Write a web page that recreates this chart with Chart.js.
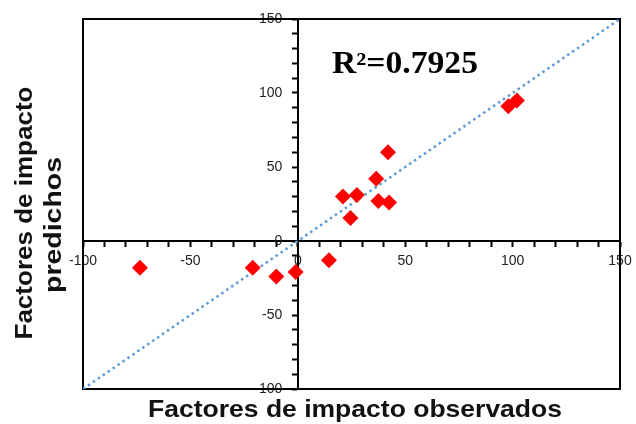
<!DOCTYPE html>
<html>
<head>
<meta charset="utf-8">
<script src="https://cdn.jsdelivr.net/npm/chart.js@4/dist/chart.umd.min.js"></script>
<style>
  body { margin: 0; background: #fff; }
  #wrap { width: 636px; height: 424px; }
</style>
</head>
<body>
<div id="wrap"><canvas id="impacto"></canvas></div>
<script>
const observados = [-73.5, -21, -10, -1, 14.5, 21, 27.5, 24.5, 36.5, 37.5, 42.5, 42, 98, 102];
const predichos  = [-18, -18, -24, -21, -13, 30, 31, 15.5, 42, 27, 26, 60, 91, 95];

// 1:1 reference line ends
const lineaX = [-100, 150];
const lineaY = [-100, 150];

const ejeMin = -100, ejeMax = 150;
const pasoMenor = 10, pasoMayor = 50;
const r2Texto = 'R\u00B2=0.7925';
const tituloX = 'Factores de impacto observados';
const tituloY = ['Factores de impacto', 'predichos'];

let puntos = observados.map((x, i) => ({ x: x, y: predichos[i] }));
let linea = lineaX.map((x, i) => ({ x: x, y: lineaY[i] }));

// text squeezed/stretched to the width it has in the picture
function textoAncho(ctx, txt, x, y, ancho, rot) {
    let w = ctx.measureText(txt).width;
    ctx.save();
    ctx.translate(x, y);
    if (rot) ctx.rotate(rot);
    ctx.scale(ancho / w, 1);
    ctx.fillText(txt, 0, 0);
    ctx.restore();
}

// frame round the plot area + texts (titles and R2)
const extras = {
    id: 'extras',
    beforeDatasetsDraw(chart) {
        let ctx = chart.ctx;
        let a = chart.chartArea;
        ctx.save();
        ctx.strokeStyle = '#000';
        ctx.lineWidth = 2;
        ctx.strokeRect(a.left, a.top, a.right - a.left, a.bottom - a.top);
        ctx.restore();
    },
    afterDraw(chart) {
        let ctx = chart.ctx;
        ctx.save();
        ctx.fillStyle = '#000';
        ctx.textBaseline = 'alphabetic';

        ctx.font = 'bold 31px "Liberation Serif", "Times New Roman", serif';
        ctx.textAlign = 'left';
        textoAncho(ctx, r2Texto, 332, 73, 146);

        ctx.fillStyle = '#111';
        ctx.font = 'bold 24px "Liberation Sans", Arial, sans-serif';
        ctx.textAlign = 'center';
        textoAncho(ctx, tituloX, 355, 417, 414);
        textoAncho(ctx, tituloY[0], 32, 213, 253, -Math.PI / 2);
        textoAncho(ctx, tituloY[1], 61, 225, 136, -Math.PI / 2);
        ctx.restore();
    }
};

function etiquetaX(v) {
    return v % pasoMayor === 0 ? v : '';
}
// y labels sit left of the crossing axis
function etiquetaY(v) {
    return v % pasoMayor === 0 ? v + '    ' : '';
}

let fuenteTicks = { family: '"Liberation Sans", Arial, sans-serif', size: 14 };

new Chart(document.getElementById('impacto'), {
    type: 'scatter',
    data: {
        datasets: [{
            data: puntos,
            backgroundColor: '#ff0000',
            borderColor: '#ff0000',
            borderWidth: 0,
            pointStyle: 'rectRot',
            pointRadius: 8,
            pointHoverRadius: 8
        }, {
            data: linea,
            showLine: true,
            borderColor: '#5b9bd5',
            borderWidth: 2.5,
            borderDash: [2.5, 3.5],
            pointRadius: 0,
            fill: false
        }]
    },
    options: {
        responsive: true,
        maintainAspectRatio: false,
        animation: false,
        events: [],
        layout: { padding: { left: 83, top: 19, right: 16, bottom: 35 } },
        plugins: { legend: { display: false }, tooltip: { enabled: false } },
        scales: {
            x: {
                type: 'linear',
                min: ejeMin,
                max: ejeMax,
                position: { y: 0 },
                afterFit: (s) => { s.height = 0; s.paddingLeft = 0; s.paddingRight = 0; },
                border: { display: true, color: '#000', width: 2 },
                grid: { drawOnChartArea: false, drawTicks: true, tickLength: 5, tickColor: '#000', tickWidth: 2 },
                ticks: {
                    stepSize: pasoMenor,
                    autoSkip: false,
                    maxRotation: 0,
                    padding: 7,
                    color: '#222',
                    font: fuenteTicks,
                    callback: etiquetaX
                }
            },
            y: {
                type: 'linear',
                min: ejeMin,
                max: ejeMax,
                position: { x: 0 },
                afterFit: (s) => { s.width = 0; s.paddingTop = 0; s.paddingBottom = 0; },
                border: { display: true, color: '#000', width: 2 },
                grid: { drawOnChartArea: false, drawTicks: true, tickLength: 5, tickColor: '#000', tickWidth: 2 },
                ticks: {
                    stepSize: pasoMenor,
                    autoSkip: false,
                    padding: 8,
                    color: '#222',
                    font: fuenteTicks,
                    callback: etiquetaY
                }
            }
        }
    },
    plugins: [extras]
});
</script>
</body>
</html>
